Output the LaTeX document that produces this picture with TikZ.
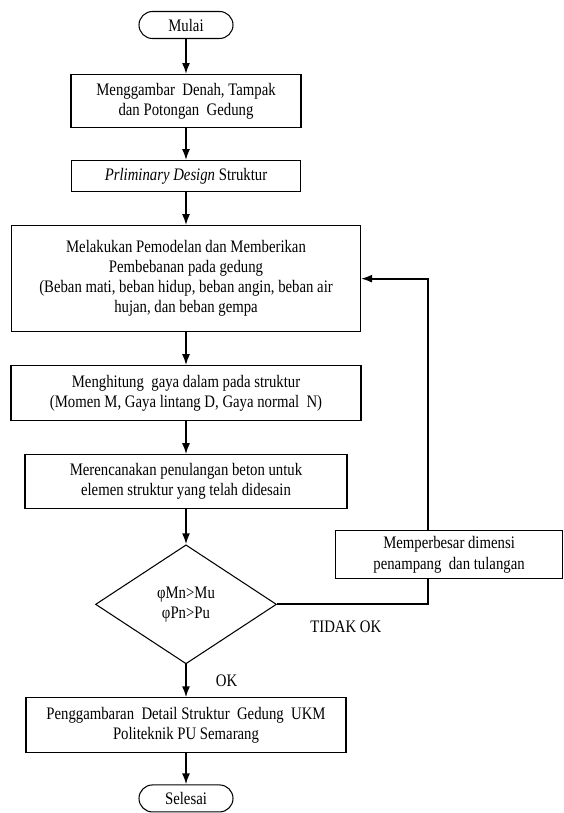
\documentclass[tikz,border=0pt]{standalone}
\usepackage{fontspec}
\setmainfont{Liberation Serif}[FakeStretch=0.84]
\usetikzlibrary{shapes.geometric, arrows.meta, positioning, calc}

\begin{document}
\begin{tikzpicture}[
    font=\fontsize{10}{11.4}\selectfont,
    node distance=0.66cm,
    box/.style={draw, line width=0.6pt, align=center, inner sep=2pt},
    startstop/.style={box, rounded corners=0.27cm, minimum width=1.88cm, minimum height=0.54cm},
    decision/.style={box, diamond, minimum width=3.62cm, minimum height=2.38cm, inner sep=0pt},
    arrow/.style={-{Latex[length=2.2mm,width=1.6mm]}, line width=1pt},
    line/.style={line width=1pt},
    lbl/.style={inner sep=0pt}
]
    \useasboundingbox (-3.72,0.5) rectangle (7.54,-15.76);

    \node[startstop] (start) at (0,0) {Mulai};
    \node[box, below=0.7cm of start, minimum width=4.6cm, minimum height=1.06cm] (plan) {Menggambar\ \ Denah, Tampak\\dan Potongan\ \ Gedung};
    \node[box, below=0.64cm of plan, minimum width=4.58cm, minimum height=0.62cm] (prelim) {\textit{Prliminary Design} Struktur};
    \node[box, below=of prelim, minimum width=6.98cm, minimum height=2.12cm] (model) {Melakukan Pemodelan dan Memberikan\\Pembebanan pada gedung\\(Beban mati, beban hidup, beban angin, beban air\\hujan, dan beban gempa};
    \node[box, below=of model, minimum width=7cm, minimum height=1.1cm] (force) {Menghitung\ \ gaya dalam pada struktur\\(Momen M, Gaya lintang D, Gaya normal\ \ N)};
    \node[box, below=of force, minimum width=6.44cm, minimum height=1.08cm] (rebar) {Merencanakan penulangan beton untuk\\elemen struktur yang telah didesain};
    \node[decision, below=0.7cm of rebar] (check) {φMn>Mu\\φPn>Pu};
    \node[box, below=of check, minimum width=6.4cm, minimum height=1.1cm] (detail) {Penggambaran\ \ Detail Struktur\ \ Gedung\ \ UKM\\Politeknik PU Semarang};
    \node[startstop, below=0.62cm of detail] (finish) {Selesai};

    \node[box, above right=0.5cm and 1.16cm of check.east, minimum width=4.54cm, minimum height=0.96cm] (enlarge) {Memperbesar dimensi\\penampang\ \ dan tulangan};

    \node[lbl, below right=0.32cm and 0.66cm of check.east] (notok) {TIDAK OK};
    \node[lbl, below right=0.2cm and 0.59cm of check.south] (ok) {OK};

    \draw[arrow] (start) -- (plan);
    \draw[arrow] (plan) -- (prelim);
    \draw[arrow] (prelim) -- (model);
    \draw[arrow] (model) -- (force);
    \draw[arrow] (force) -- (rebar);
    \draw[arrow] (rebar) -- (check);
    \draw[arrow] (check) -- (detail);
    \draw[arrow] (detail) -- (finish);

    % back to modelling
    \coordinate (loop) at ($(enlarge.south west)+(1.86,0)$);
    \draw[line] (check.east) -| (loop);
    \draw[arrow] (enlarge.north -| loop) |- (model.east);

\end{tikzpicture}
\end{document}
